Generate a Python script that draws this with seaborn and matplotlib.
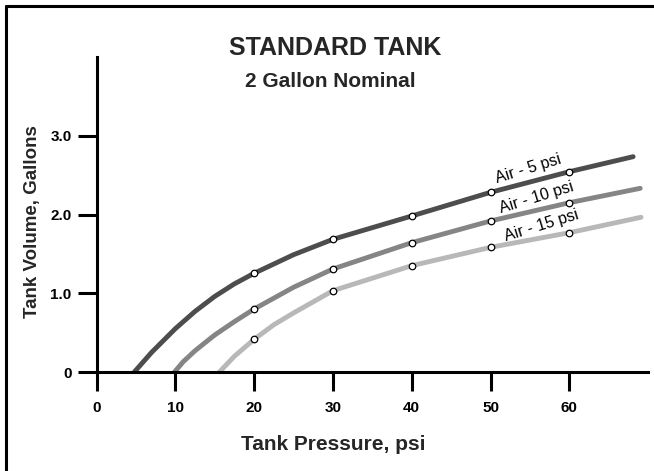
import numpy as np
import pandas as pd
import seaborn as sns
import matplotlib.pyplot as plt
from matplotlib.lines import Line2D

# curves (psi, gallons)
psi_air5 = [4.8, 7.0, 10, 12.5, 15, 17.5, 20, 25, 30, 40, 50, 60, 68.1]
vol_air5 = [0, 0.25, 0.55, 0.77, 0.96, 1.12, 1.254, 1.49, 1.686, 1.982, 2.283, 2.545, 2.736]

psi_air10 = [9.9, 11.0, 12.5, 15, 17.5, 20, 25, 30, 40, 50, 60, 69.0]
vol_air10 = [0, 0.13, 0.27, 0.47, 0.64, 0.80, 1.076, 1.309, 1.643, 1.919, 2.151, 2.334]

psi_air15 = [15.6, 17.5, 20, 22.5, 25, 30, 40, 50, 60, 69.1]
vol_air15 = [0, 0.20, 0.415, 0.60, 0.75, 1.033, 1.351, 1.584, 1.77, 1.966]

series_names = ["Air - 5 psi", "Air - 10 psi", "Air - 15 psi"]
series_colors = ["#4d4d4d", "#858585", "#b8b8b8"]
marker_psi = [20, 30, 40, 50, 60]

label_pos_x = [54.8, 55.9, 56.5]
label_pos_y = [2.58, 2.21, 1.855]

x_ticks = [0, 10, 20, 30, 40, 50, 60]
y_ticks = [0, 1, 2, 3]
y_tick_labels = ["0", "1.0", "2.0", "3.0"]

frames = []
for name, p, v in zip(series_names,
                      [psi_air5, psi_air10, psi_air15],
                      [vol_air5, vol_air10, vol_air15]):
    frames.append(pd.DataFrame({"psi": p, "vol": v, "series": name}))
df = pd.concat(frames, ignore_index=True)
pts = df[df["psi"].isin(marker_psi)]

sns.set_theme(style="white")
plt.rcParams["font.family"] = ["Liberation Sans", "DejaVu Sans"]

fig = plt.figure(figsize=(6.54, 4.71), dpi=100)
ax = fig.add_axes([96.5 / 654, 99 / 471, 551.6 / 654, 314.8 / 471])

palette = dict(zip(series_names, series_colors))
sns.lineplot(data=df, x="psi", y="vol", hue="series", palette=palette,
             linewidth=3.5, sort=False, legend=False, ax=ax)
sns.scatterplot(data=pts, x="psi", y="vol", color="white", edgecolor="black",
                linewidth=0.9, s=22, zorder=5, legend=False, ax=ax)

for name, lx, ly in zip(series_names, label_pos_x, label_pos_y):
    ax.text(lx, ly, name, rotation=17, ha="center", va="center",
            fontsize=11.5, color="black")

ax.set_xlim(0, 70)
ax.set_ylim(0, 4.0)
ax.set_xticks(x_ticks)
ax.set_xticklabels([str(t) for t in x_ticks])
ax.set_yticks(y_ticks)
ax.set_yticklabels(y_tick_labels)
ax.set_xlabel("")
ax.set_ylabel("")

for s in ["top", "right"]:
    ax.spines[s].set_visible(False)
for s in ["left", "bottom"]:
    ax.spines[s].set_linewidth(2.2)
    ax.spines[s].set_color("black")
ax.tick_params(axis="both", direction="out", length=14, width=2.2,
               color="black", labelsize=11, labelcolor="black",
               bottom=True, left=True)
ax.tick_params(axis="x", pad=7)
ax.tick_params(axis="y", pad=4)
for lab in ax.get_xticklabels() + ax.get_yticklabels():
    lab.set_fontweight("bold")

fig.text(335 / 654, 1 - 55 / 471, "STANDARD TANK", ha="center", va="baseline",
         fontsize=18, fontweight="bold")
fig.text(330 / 654, 1 - 87 / 471, "2 Gallon Nominal", ha="center", va="baseline",
         fontsize=15, fontweight="bold")
fig.text(333 / 654, 1 - 450 / 471, "Tank Pressure, psi", ha="center", va="baseline",
         fontsize=15, fontweight="bold")
fig.text(33 / 654, 1 - 222 / 471, "Tank Volume, Gallons", ha="center", va="center",
         rotation=90, fontsize=13.5, fontweight="bold")

# frame on the left and top edges of the picture
fig.add_artist(Line2D([6 / 654, 6 / 654], [0, 1 - 6 / 471], color="black", lw=2.2))
fig.add_artist(Line2D([6 / 654, 1], [1 - 6 / 471, 1 - 6 / 471], color="black", lw=2.2))

fig.savefig("out.png", dpi=100)
plt.close(fig)
